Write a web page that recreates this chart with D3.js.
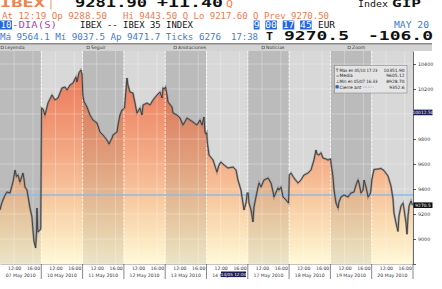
<!DOCTYPE html>
<html><head><meta charset="utf-8">
<script src="https://cdn.jsdelivr.net/npm/d3@7"></script>
<style>body{margin:0;background:#fff;overflow:hidden}svg{display:block}</style>
</head><body><svg id="c" width="442" height="289"></svg>
<script>
// ---------------- DATA ----------------
const dayLabels = ["07 May 2010","10 May 2010","11 May 2010","12 May 2010","13 May 2010",
                   "14 May 2010","17 May 2010","18 May 2010","19 May 2010","20 May 2010"];
const hourTicks = ["12:00","16:00"];
const priceTicks = [10400,10200,10000,9800,9600,9400,9200,9000,8800];
const priceLabels = [10400,10200,9800,9600,9400,9200,9000];
const prevClose = 9352.6;
const lastPrice = 9270.5;
const cursorPrice = 10012.5;
const cursorLabel = "14/05 12:04";

const may07 = [["09:00",9232],["09:19",9280],["09:38",9312],["10:04",9350],["10:29",9376],["11:07",9368],
  ["11:45",9456],["12:11",9552],["12:30",9500],["12:49",9512],["13:14",9456],["13:52",9528],["14:05",9480],
  ["14:17",9416],["14:43",9392],["15:21",9248],["15:46",9176],["15:59",9072],["16:12",8980],["16:33",8929],
  ["16:44",9048],["16:50",9248],["16:59",9080],["17:03",9056],["17:28",9072],["17:38",9080]];
const may10 = [["09:03",10048],["09:22",10040],["09:47",9992],["10:25",10088],["11:16",10152],["11:54",10112],
  ["12:32",10128],["13:23",10208],["14:01",10216],["14:27",10192],["15:05",10232],["15:43",10248],
  ["16:21",10296],["16:34",10256],["16:59",10330],["17:23",10352],["17:38",10320]];
const may11 = [["09:03",10152],["09:18",10100],["09:56",10056],["10:34",9992],["11:12",9952],["12:03",9928],
  ["12:41",9856],["13:19",9832],["14:10",9792],["14:36",9760],["14:48",9776],["15:14",9808],["15:26",9832],
  ["16:17",9856],["16:30",9912],["16:55",9992],["17:21",10032],["17:38",10040]];
const may12 = [["09:08",10048],["09:39",10288],["09:52",10232],["10:17",10176],["10:55",10168],["11:21",10088],
  ["11:46",10008],["12:24",10048],["12:50",9992],["13:03",10072],["13:54",10088],["14:32",10072],
  ["15:10",10112],["16:01",10152],["16:39",10176],["17:05",10128],["17:17",10208],["17:36",10200]];
const may13 = [["09:04",10216],["09:23",10152],["09:36",10096],["10:27",10056],["10:39",10008],["11:30",9992],
  ["12:08",9968],["12:46",9912],["13:37",9968],["14:15",9952],["14:53",9936],["15:44",9912],["16:22",9952],
  ["16:48",9912],["17:13",9976],["17:26",9856],["17:38",9840]];
const may14 = [["09:03",9850],["09:10",9776],["09:32",9672],["10:23",9632],["11:13",9536],["11:39",9592],
  ["12:04",9616],["12:42",9592],["13:33",9568],["14:37",9576],["15:15",9552],["15:40",9472],["16:18",9392],
  ["16:57",9232],["17:22",9288],["17:38",9368]];
const may17 = [["09:05",9368],["09:15",9288],["09:41",9232],["10:06",9136],["10:19",9256],["10:44",9336],
  ["11:10",9416],["11:23",9448],["11:48",9416],["12:26",9472],["13:17",9488],["13:55",9448],["14:21",9376],
  ["14:33",9336],["15:24",9408],["15:37",9392],["16:02",9416],["16:28",9336],["17:06",9312],["17:38",9288]];
const may18 = [["09:03",9512],["09:24",9528],["10:02",9488],["10:53",9448],["11:31",9472],["12:09",9512],
  ["13:00",9528],["13:38",9552],["14:16",9632],["14:42",9712],["14:54",9680],["15:20",9672],["15:45",9690],
  ["16:11",9648],["16:49",9640],["17:15",9632],["17:38",9640]];
const may19 = [["09:03",9640],["09:08",9608],["09:33",9496],["09:46",9392],["10:11",9288],["10:37",9248],
  ["10:49",9296],["11:15",9336],["11:53",9352],["12:44",9336],["13:22",9368],["14:00",9376],["14:26",9432],
  ["14:51",9472],["15:04",9448],["15:29",9368],["15:55",9392],["16:08",9472],["16:33",9416],["16:59",9336],
  ["17:31",9368]];
const may20 = [["09:02",9472],["09:17",9520],["09:29",9556],["10:20",9560],["10:58",9564],["11:36",9548],
  ["12:27",9504],["13:05",9424],["13:31",9320],["13:43",9208],["14:09",9128],["14:34",9060],["14:47",9184],
  ["15:13",9264],["15:38",9288],["15:51",9240],["16:16",9128],["16:29",9038],["16:42",9184],["16:55",9264],
  ["17:20",9304],["17:38",9270.5]];
const sessions = [may07,may10,may11,may12,may13,may14,may17,may18,may19,may20];

const legendRows = [["Max en 05/10 17:23","10351.90"],["Media","9605.12"],
                    ["Min en 05/07 16:33","8928.70"],["Cierre ant","9352.6"]];
const toolbarItems = ["Leyenda","Seguir","Anotaciones","Noticias","Zoom"];

// ---------------- CHART ----------------
const svg = d3.select("#c");
const mono = "'DejaVu Sans Mono','Liberation Mono',monospace";
const sans = "'DejaVu Sans','Liberation Sans',sans-serif";
const plot = {left:0,right:413,top:51,bottom:264};
const SESSION = 525; // 9:00 - 17:45 in minutes
const x = d3.scaleLinear().domain([0, dayLabels.length]).range([plot.left, plot.right]);
const y = d3.scaleLinear().domain([8800, 10504]).range([plot.bottom, plot.top]);
const toMin = s => { const [h,m] = s.split(":").map(Number); return (h-9)*60+m; };
const pts = sessions.flatMap((d,i)=>d.map(([t,v])=>({p:i+toMin(t)/SESSION, v})));

function txt(g, xx, yy, s, o={}) {
  const t = g.append("text").attr("x",xx).attr("y",yy).text(s)
    .attr("font-family", o.family||mono).attr("font-size", o.size||9)
    .attr("font-weight", o.weight||"normal").attr("fill", o.color||"#111");
  if (o.len) t.attr("textLength", o.len).attr("lengthAdjust","spacingAndGlyphs");
  if (o.anchor) t.attr("text-anchor", o.anchor);
  return t;
}

// Header
const hd = svg.append("g");
const orange = "#ef8150", salmon = "#e97c55", blue = "#3b7bd9";
txt(hd,0,6.5,"IBEX",{size:13,weight:"bold",color:orange,len:45});
txt(hd,48,6.5,"|",{size:10,color:orange});
txt(hd,75,6.5,"9281.90",{size:13,weight:"bold",len:72});
txt(hd,157,6.5,"+11.40",{size:13,weight:"bold",len:66});
txt(hd,226,6.5,"Q",{size:9,color:orange,len:7});
txt(hd,358,7,"Index",{size:9.5,len:30});
txt(hd,392,7,"GIP",{size:11,weight:"bold",len:29});
txt(hd,2,18.5,"At 12:19 Op 9288.50",{size:9,color:salmon,len:105});
txt(hd,123,18.5,"Hi 9443.50 Q Lo 9217.60 Q Prev 9270.50",{size:9,color:salmon,len:206});
hd.append("rect").attr("x",0).attr("y",20.5).attr("width",12).attr("height",9).attr("fill","#2466dc");
txt(hd,0.5,28,"10",{size:9,color:"#fff",len:11});
txt(hd,12,28,"-DIA(S)",{size:9,color:"#b23fc2",len:45});
txt(hd,80,28,"IBEX -- IBEX 35 INDEX",{size:9,len:113});
[[253.7,5.8],[265.3,11.6],[282.7,11.6],[300.1,11.6]].forEach(([bx,bw])=>
  hd.append("rect").attr("x",bx).attr("y",20.5).attr("width",bw).attr("height",9).attr("fill","#2466dc"));
txt(hd,253.7,28,"9:00-17:45",{size:9,color:"#fff",len:58});
txt(hd,318,28,"EUR",{size:9,len:17});
txt(hd,394,28,"MAY 20",{size:9,color:blue,len:35});
txt(hd,0,39.5,"Má 9564.1 Mí 9037.5 Ap 9471.7 Ticks 6276",{size:9,color:blue,len:221});
txt(hd,231,39.5,"17:38",{size:9,color:blue,len:27});
txt(hd,266,39.5,"T",{size:10.5,weight:"bold",len:7});
txt(hd,284,39.5,"9270.5",{size:11.5,weight:"bold",len:65});
txt(hd,368,39.5,"-106.0",{size:11.5,weight:"bold",len:65});

// Toolbar
const tb = svg.append("g");
tb.append("rect").attr("x",0).attr("y",43).attr("width",432).attr("height",8).attr("fill","#d3d3d3");
tb.append("rect").attr("x",0).attr("y",43).attr("width",432).attr("height",1.5).attr("fill","#8c8c8c");
const tbX = [1,87,174,262,348];
toolbarItems.forEach((s,i)=>{
  tb.append("rect").attr("x",tbX[i]).attr("y",46.2).attr("width",2.6).attr("height",2.6)
    .attr("fill","none").attr("stroke","#444").attr("stroke-width",0.5);
  txt(tb,tbX[i]+4,49.4,s,{size:4.6,family:sans,color:"#333"});
});

// Plot
const defs = svg.append("defs");
defs.append("clipPath").attr("id","plotclip").append("rect")
  .attr("x",plot.left).attr("y",plot.top).attr("width",plot.right-plot.left).attr("height",plot.bottom-plot.top);
const grad = defs.append("linearGradient").attr("id","ag").attr("gradientUnits","userSpaceOnUse")
  .attr("x1",0).attr("x2",0).attr("y1",plot.top).attr("y2",plot.bottom);
[[0,"#e86e50"],[0.12,"#ec7c5c"],[0.32,"#f09472"],[0.52,"#f4ae88"],[0.72,"#f8cda4"],[0.87,"#fbe5bd"],[1,"#fff9da"]]
  .forEach(([o,c])=>grad.append("stop").attr("offset",o).attr("stop-color",c));

const area = d3.area().x(d=>x(d.p)).y0(plot.bottom).y1(d=>y(d.v));
const line = d3.line().x(d=>x(d.p)).y(d=>y(d.v));
defs.append("clipPath").attr("id","areaclip").append("path").attr("d",area(pts));

const pg = svg.append("g").attr("clip-path","url(#plotclip)");
const dw = x(1)-x(0);
dayLabels.forEach((d,i)=>pg.append("rect").attr("x",x(i)).attr("y",plot.top).attr("width",dw)
  .attr("height",plot.bottom-plot.top).attr("fill", i%2===0 ? "#bbbbbb" : "#d8d8d8"));
pg.append("path").attr("d",area(pts)).attr("fill","url(#ag)");
const ov = pg.append("g").attr("clip-path","url(#areaclip)");
dayLabels.forEach((d,i)=>{ if(i%2===0) ov.append("rect").attr("x",x(i)).attr("y",plot.top).attr("width",dw)
  .attr("height",plot.bottom-plot.top).attr("fill","#000").attr("opacity",0.08); });

// grid
priceTicks.forEach(v=>pg.append("line").attr("x1",plot.left).attr("x2",plot.right).attr("y1",y(v)).attr("y2",y(v))
  .attr("stroke","#fff").attr("stroke-opacity",0.35).attr("stroke-width",0.8));
dayLabels.forEach((d,i)=>{
  hourTicks.forEach(h=>{ const xx = x(i+toMin(h)/SESSION);
    pg.append("line").attr("x1",xx).attr("x2",xx).attr("y1",plot.top).attr("y2",plot.bottom)
      .attr("stroke","#fff").attr("stroke-opacity",0.35).attr("stroke-width",0.8); });
  if (i>0) pg.append("line").attr("x1",x(i)).attr("x2",x(i)).attr("y1",plot.top).attr("y2",plot.bottom)
      .attr("stroke","#fff").attr("stroke-opacity",0.8).attr("stroke-width",1).attr("stroke-dasharray","3,1");
});
// previous close
pg.append("line").attr("x1",plot.left).attr("x2",plot.right).attr("y1",y(prevClose)).attr("y2",y(prevClose))
  .attr("stroke","#8fbbe6").attr("stroke-width",1.6);
// price line
pg.append("path").attr("d",line(pts)).attr("fill","none").attr("stroke","#7a7a7a").attr("stroke-width",2.2).attr("stroke-opacity",0.6);
pg.append("path").attr("d",line(pts)).attr("fill","none").attr("stroke","#2f2f2f").attr("stroke-width",0.8);

// legend
const lg = svg.append("g");
lg.append("rect").attr("x",334.5).attr("y",65.5).attr("width",72.5).attr("height",27.5)
  .attr("fill","#e6e6e6").attr("fill-opacity",0.92).attr("stroke","#8a8a8a").attr("stroke-width",0.6);
const ly = [71.8,77.2,82.6,88.6];
const lLen = [38,null,38,null];
legendRows.forEach(([a,b],i)=>{
  txt(lg,339.5,ly[i],a,{size:4.4,family:sans,color:"#222",len:lLen[i]});
  txt(lg,404.5,ly[i],b,{size:4.4,family:sans,color:"#222",anchor:"end"});
});
txt(lg,335.8,ly[0],"T",{size:4.4,family:sans,color:"#222"});
txt(lg,335.8,ly[1],"=",{size:4.4,family:sans,color:"#222"});
txt(lg,335.8,ly[2],"⊥",{size:4.4,family:sans,color:"#222"});
lg.append("rect").attr("x",335.5).attr("y",ly[3]-3.4).attr("width",3.2).attr("height",3.2).attr("fill","#1f63d6");
lg.append("line").attr("x1",363).attr("x2",374).attr("y1",ly[3]-1.5).attr("y2",ly[3]-1.5)
  .attr("stroke","#7a9cc8").attr("stroke-width",0.6).attr("stroke-dasharray","1.5,1");

// Y axis
const ya = svg.append("g").attr("transform",`translate(${plot.right},0)`)
  .call(d3.axisRight(y).tickValues(priceTicks).tickSize(3).tickSizeOuter(0)
    .tickFormat(d=>priceLabels.includes(d)?d:""));
ya.select(".domain").attr("stroke","#444").attr("stroke-width",0.8);
ya.selectAll(".tick line").attr("stroke","#333").attr("stroke-width",0.8);
ya.selectAll(".tick text").attr("font-size",4.8).attr("font-family",sans).attr("fill","#333").attr("x",5);
// value tags
[[cursorPrice,"#1d1d52",cursorPrice.toFixed(2)],[lastPrice,"#111",lastPrice.toFixed(1)]].forEach(([v,c,s])=>{
  svg.append("rect").attr("x",plot.right+0.5).attr("y",y(v)-2.8).attr("width",19).attr("height",5.6).attr("fill",c);
  txt(svg,plot.right+10,y(v)+1.7,s,{size:4.4,family:sans,color:"#fff",anchor:"middle"});
});

// X axis
const xTickVals = dayLabels.flatMap((d,i)=>hourTicks.map(h=>i+toMin(h)/SESSION));
const xa = svg.append("g").attr("transform",`translate(0,${plot.bottom})`)
  .call(d3.axisBottom(x).tickValues(xTickVals).tickSize(0).tickFormat((d,i)=>hourTicks[i%hourTicks.length]));
xa.select(".domain").attr("stroke","#9a9a9a").attr("stroke-width",0.6);
xa.selectAll(".tick text").attr("font-size",4.6).attr("font-family",sans).attr("fill","#333").attr("dy",0).attr("y",5.8);
dayLabels.forEach((d,i)=>{
  txt(svg,x(i+0.5),276.5,d,{size:4.6,family:sans,color:"#333",anchor:"middle"});
  if(i>0) svg.append("line").attr("x1",x(i)).attr("x2",x(i)).attr("y1",plot.bottom).attr("y2",279)
    .attr("stroke","#555").attr("stroke-width",0.7);
});
svg.append("line").attr("x1",plot.right).attr("x2",plot.right).attr("y1",plot.bottom).attr("y2",279)
  .attr("stroke","#555").attr("stroke-width",0.7);
// crosshair time tag
svg.append("rect").attr("x",221).attr("y",271.5).attr("width",25).attr("height",5.6).attr("fill","#1d1d52");
txt(svg,233.5,276,cursorLabel,{size:4.2,family:sans,color:"#fff",anchor:"middle"});
</script></body></html>
